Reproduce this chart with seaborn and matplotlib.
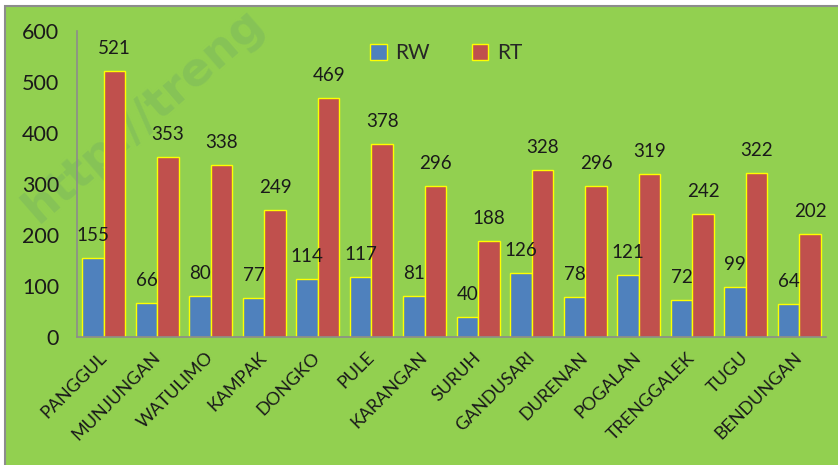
import pandas as pd
import seaborn as sns
import matplotlib.pyplot as plt
from matplotlib.patches import Rectangle, Patch

kecamatan = ["PANGGUL", "MUNJUNGAN", "WATULIMO", "KAMPAK", "DONGKO", "PULE",
             "KARANGAN", "SURUH", "GANDUSARI", "DURENAN", "POGALAN",
             "TRENGGALEK", "TUGU", "BENDUNGAN"]
rw = [155, 66, 80, 77, 114, 117, 81, 40, 126, 78, 121, 72, 99, 64]
rt = [521, 353, 338, 249, 469, 378, 296, 188, 328, 296, 319, 242, 322, 202]

df = pd.DataFrame({"kecamatan": kecamatan * 2,
                   "jumlah": rw + rt,
                   "jenis": ["RW"] * len(rw) + ["RT"] * len(rt)})

green = "#92D050"
colors = {"RW": "#4F81BD", "RT": "#C0504D"}

sns.set_style("white")
plt.rcParams["font.family"] = ["Lato", "DejaVu Sans"]

fig = plt.figure(figsize=(8.38, 4.65), dpi=100)
fig.patch.set_facecolor("white")
# green chart area with grey frame
fig.patches.append(Rectangle((5 / 838, -0.01), 1.0, 1 - 6.5 / 465 + 0.01,
                             transform=fig.transFigure, facecolor=green,
                             edgecolor="#8c8c8c", linewidth=1.5, zorder=0))

# faint watermark
fig.text(38 / 838, 1 - 224 / 465, "http://treng", rotation=41,
         fontsize=33, fontweight="bold", color="#86C357",
         ha="left", va="baseline", rotation_mode="anchor",
         family=["DejaVu Sans"], zorder=1)

ax = fig.add_axes([77 / 838, 1 - 337 / 465, 749 / 838, 306 / 465])
ax.set_facecolor("none")
ax.set_zorder(2)

sns.barplot(data=df, x="kecamatan", y="jumlah", hue="jenis",
            palette=colors, saturation=1, width=0.81,
            edgecolor="#FFFF00", linewidth=1, ax=ax)

for c in ax.containers:
    ax.bar_label(c, padding=10, fontsize=13.5, color="#1a1a1a")

ax.set_ylim(0, 600)
ax.set_xlim(-0.5, len(kecamatan) - 0.5)
ax.set_yticks(range(0, 601, 100))
ax.set_xlabel("")
ax.set_ylabel("")

for s in ["top", "right"]:
    ax.spines[s].set_visible(False)
for s in ["left", "bottom"]:
    ax.spines[s].set_color("#8c8c8c")
    ax.spines[s].set_linewidth(1.2)

ax.tick_params(axis="y", direction="out", length=6, width=1.2,
               color="#8c8c8c", labelsize=15.5, labelcolor="#1a1a1a", pad=7)
ax.set_xticks([i - 0.5 for i in range(len(kecamatan) + 1)], minor=True)
ax.tick_params(axis="x", which="minor", direction="out", length=6,
               width=1.2, color="#8c8c8c")
ax.tick_params(axis="x", which="major", length=0, pad=13)
ax.set_xticklabels(kecamatan, rotation=45, ha="right", va="center",
                   rotation_mode="anchor", fontsize=13, color="#1a1a1a")

handles = [Patch(facecolor=colors[k], edgecolor="#FFFF00", linewidth=1)
           for k in ["RW", "RT"]]
ax.legend(handles, ["RW", "RT"], loc="center", bbox_to_anchor=(0.493, 0.928),
          ncol=2, frameon=False, fontsize=15, handlelength=0.8,
          handleheight=0.8, handletextpad=0.4, columnspacing=2.0)

fig.savefig("out.png", dpi=100)
